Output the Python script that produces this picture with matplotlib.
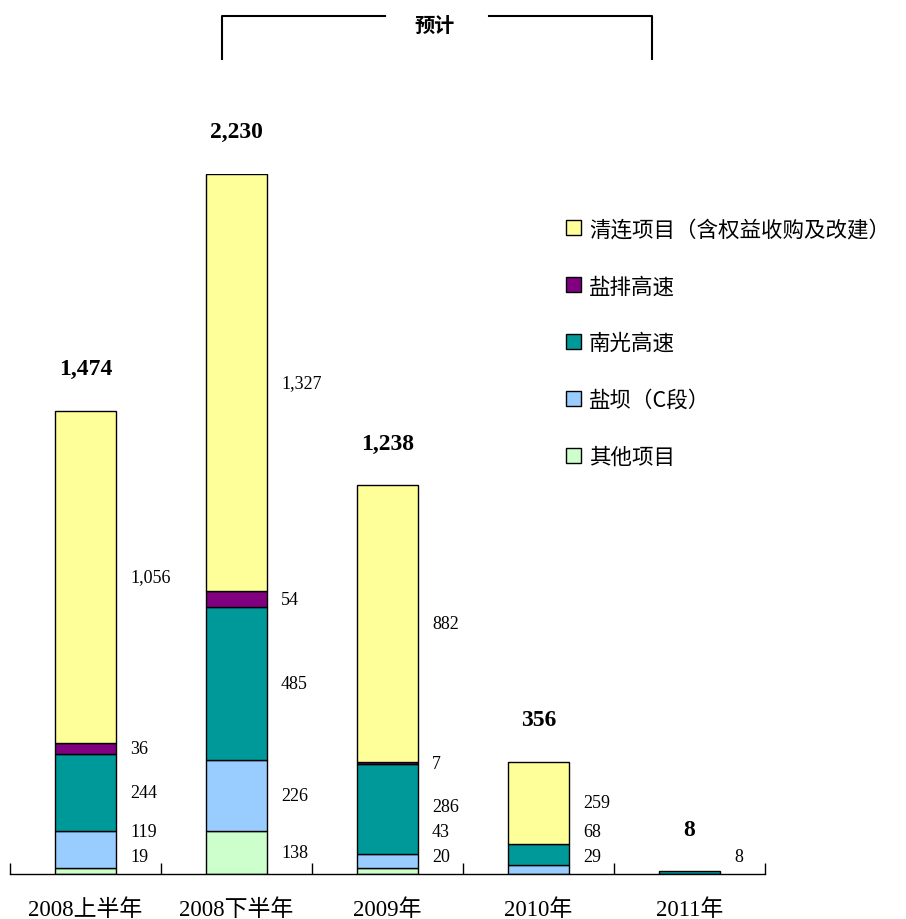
import matplotlib
matplotlib.use('Agg')
import matplotlib.pyplot as plt
from matplotlib.lines import Line2D
from matplotlib.patches import Patch

plt.rcParams['font.family'] = ['Liberation Serif', 'Noto Sans CJK SC']

# data (bottom -> top stacking order)
categories = ['2008上半年', '2008下半年', '2009年', '2010年', '2011年']
series_names = ['其他项目', '盐坝（C段）', '南光高速', '盐排高速', '清连项目（含权益收购及改建）']
other = [19, 138, 20, 0, 0]
yanba = [119, 226, 43, 29, 0]
nanguang = [244, 485, 286, 68, 8]
yanpai = [36, 54, 7, 0, 0]
qinglian = [1056, 1327, 882, 259, 0]
series = [other, yanba, nanguang, yanpai, qinglian]
colors = ['#CCFFCC', '#99CCFF', '#009999', '#800080', '#FFFF99']

fig = plt.figure(figsize=(9.06, 9.20), dpi=100)
W, H = 906, 920
ax = fig.add_axes([10 / W, 45 / H, 755 / W, 700 / H])

bar_w = 0.41
bottoms = [0] * len(categories)
min_y, gap = 55, 80
label_prev = [None] * len(categories)
for vals, col in zip(series, colors):
    for i, v in enumerate(vals):
        if v <= 0:
            continue
        ax.bar(i, v, bar_w, bottom=bottoms[i], color=col, edgecolor='black', linewidth=1)
        mid = bottoms[i] + v / 2
        ly = max(mid, min_y) if label_prev[i] is None else max(mid, label_prev[i] + gap)
        label_prev[i] = ly
        ax.text(i + bar_w / 2 + 0.09, ly, f'{v:,}', ha='left', va='center', fontsize=13)
        bottoms[i] += v

for i, t in enumerate(bottoms):
    ax.text(i, t + 135, f'{t:,}', ha='center', va='center', fontsize=17, fontweight='bold')

ax.set_xlim(-0.5, 4.5)
ax.set_ylim(0, 2230)
for s in ['top', 'right', 'left']:
    ax.spines[s].set_visible(False)
ax.spines['bottom'].set_linewidth(1)
ax.set_yticks([])
ax.set_xticks([i - 0.5 for i in range(len(categories) + 1)])
ax.set_xticklabels([])
ax.tick_params(axis='x', direction='in', length=8, width=1)
for i, c in enumerate(categories):
    ax.text(i, -112, c, ha='center', va='center', fontsize=16.5)

handles = [Patch(facecolor=c, edgecolor='black', linewidth=1) for c in colors[::-1]]
fig.legend(handles, series_names[::-1], loc='upper left', bbox_to_anchor=(547 / W, 1 - 200 / H),
           frameon=False, handlelength=0.7, handleheight=0.7, handletextpad=0.35,
           labelspacing=1.62, prop={'family': ['Noto Sans CJK SC'], 'size': 15.5})

# "预计" bracket
def fx(px):
    return px / W

def fy(py):
    return 1 - py / H

for xs, ys in [([222, 222, 385], [60, 17, 17]), ([489, 652, 652], [17, 17, 60])]:
    fig.add_artist(Line2D([fx(p) for p in xs], [fy(p) for p in ys], color='black', linewidth=1.5))
fig.text(fx(435), fy(25), '预计', ha='center', va='center', fontsize=14.5,
         family=['Noto Sans CJK SC'], fontweight='bold')

fig.savefig('out.png', dpi=100)
